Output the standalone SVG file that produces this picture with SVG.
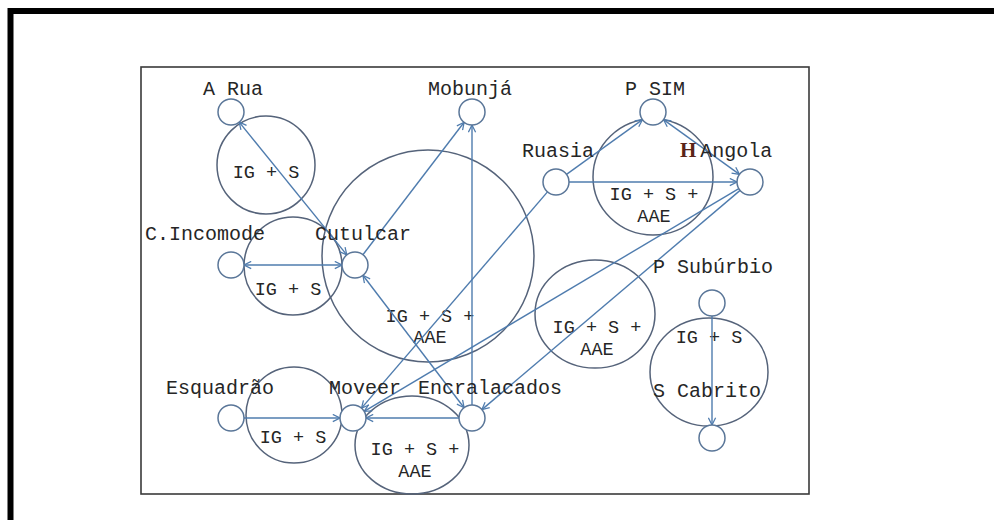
<svg xmlns="http://www.w3.org/2000/svg" width="994" height="520" viewBox="0 0 994 520">
<defs>
<style>
.lbl{font-family:"Liberation Mono","Courier New",monospace;font-size:20px;fill:#262626}
.in{font-family:"Liberation Mono","Courier New",monospace;font-size:18.5px;fill:#262626;text-anchor:middle}
.big{fill:none;stroke:#55637a;stroke-width:1.5}
.sm{fill:#fff;stroke:#5a7698;stroke-width:1.5}
.cn{fill:none;stroke:#4f7cae;stroke-width:1.4}
</style>
<marker id="ah" viewBox="0 0 10 10" refX="9" refY="5" markerWidth="9" markerHeight="9" markerUnits="userSpaceOnUse" orient="auto-start-reverse">
<path d="M1,1 L9,5 L1,9" fill="none" stroke="#4f7cae" stroke-width="1.4"/>
</marker>
</defs>
<rect width="994" height="520" fill="#fff"/>
<path d="M10.5,520 V11 H994" fill="none" stroke="#000" stroke-width="6"/>
<rect x="141" y="67" width="668" height="427" fill="none" stroke="#3a3a3a" stroke-width="1.6"/>

<g id="groups">
<circle id="g-arua" class="big" cx="266" cy="165" r="49"/>
<circle id="g-incomode" class="big" cx="293" cy="266" r="49"/>
<circle id="g-cutulcar" class="big" cx="428" cy="256" r="106"/>
<ellipse id="g-psim" class="big" cx="653" cy="177" rx="60" ry="58"/>
<ellipse id="g-mid" class="big" cx="595" cy="314" rx="60" ry="54"/>
<ellipse id="g-suburbio" class="big" cx="709" cy="372" rx="59" ry="54"/>
<circle id="g-esq" class="big" cx="294" cy="415" r="48"/>
<ellipse id="g-moveer" class="big" cx="412" cy="445" rx="57" ry="49"/>
<text class="in" x="266" y="178">IG + S</text>
<text class="in" x="288" y="295">IG + S</text>
<text class="in" x="293" y="443">IG + S</text>
<text class="in" x="430" y="322">IG + S +</text>
<text class="in" x="430" y="343">AAE</text>
<text class="in" x="654" y="200">IG + S +</text>
<text class="in" x="654" y="222">AAE</text>
<text class="in" x="597" y="333">IG + S +</text>
<text class="in" x="597" y="355">AAE</text>
<text class="in" x="415" y="455">IG + S +</text>
<text class="in" x="415" y="477">AAE</text>
<text class="in" x="709" y="343">IG + S</text>
</g>

<g id="connectors" class="cn">
<line x1="239.2" y1="122.1" x2="346.8" y2="254.9" marker-start="url(#ah)" marker-end="url(#ah)"/>
<line x1="244" y1="265" x2="342" y2="265" marker-start="url(#ah)" marker-end="url(#ah)"/>
<line x1="362.9" y1="254.7" x2="464.1" y2="122.3" marker-end="url(#ah)"/>
<line x1="472" y1="405" x2="472" y2="125" marker-end="url(#ah)"/>
<line x1="566.5" y1="174.4" x2="642.5" y2="119.6" marker-end="url(#ah)"/>
<line x1="663.5" y1="119.6" x2="739.5" y2="174.4" marker-start="url(#ah)" marker-end="url(#ah)"/>
<line x1="569" y1="182" x2="737" y2="182" marker-end="url(#ah)"/>
<line x1="547.5" y1="191.9" x2="361.5" y2="408.1" marker-end="url(#ah)"/>
<line x1="738.8" y1="188.6" x2="364.2" y2="411.4" marker-end="url(#ah)"/>
<line x1="740.1" y1="190.4" x2="481.9" y2="409.6" marker-end="url(#ah)"/>
<line x1="362.9" y1="275.3" x2="464.1" y2="407.7" marker-start="url(#ah)" marker-end="url(#ah)"/>
<line x1="244" y1="418" x2="340" y2="418" marker-end="url(#ah)"/>
<line x1="459" y1="418" x2="366" y2="418" marker-end="url(#ah)"/>
<line x1="712" y1="316" x2="712" y2="425" marker-end="url(#ah)"/>
</g>

<g id="n-arua"><circle class="sm" cx="231" cy="112" r="13"/><text class="lbl" x="203" y="95">A Rua</text></g>
<g id="n-mobunja"><circle class="sm" cx="472" cy="112" r="13"/><text class="lbl" x="428" y="95">Mobunjá</text></g>
<g id="n-psim"><circle class="sm" cx="653" cy="112" r="13"/><text class="lbl" x="625" y="95">P SIM</text></g>
<g id="n-ruasia"><circle class="sm" cx="556" cy="182" r="13"/><text class="lbl" x="522" y="157">Ruasia</text></g>
<g id="n-hangola"><circle class="sm" cx="750" cy="182" r="13"/><text class="lbl" x="680" y="157"><tspan font-family="Liberation Serif, serif" font-weight="bold" font-size="21" fill="#5a2418">H</tspan><tspan dx="4">Angola</tspan></text></g>
<g id="n-incomode"><circle class="sm" cx="231" cy="265" r="13"/><text class="lbl" x="145" y="240">C.Incomode</text></g>
<g id="n-cutulcar"><circle class="sm" cx="355" cy="265" r="13"/><text class="lbl" x="315" y="240">Cutulcar</text></g>
<g id="n-suburbio"><circle class="sm" cx="712" cy="303" r="13"/><text class="lbl" x="653" y="273">P Subúrbio</text></g>
<g id="n-cabrito"><circle class="sm" cx="712" cy="438" r="13"/><text class="lbl" x="653" y="397">S Cabrito</text></g>
<g id="n-esquadrao"><circle class="sm" cx="231" cy="418" r="13"/><text class="lbl" x="166" y="394">Esquadrão</text></g>
<g id="n-moveer"><circle class="sm" cx="353" cy="418" r="13"/><text class="lbl" x="329" y="394">Moveer</text></g>
<g id="n-encralacados"><circle class="sm" cx="472" cy="418" r="13"/><text class="lbl" x="418" y="394">Encralacados</text></g>
</svg>
